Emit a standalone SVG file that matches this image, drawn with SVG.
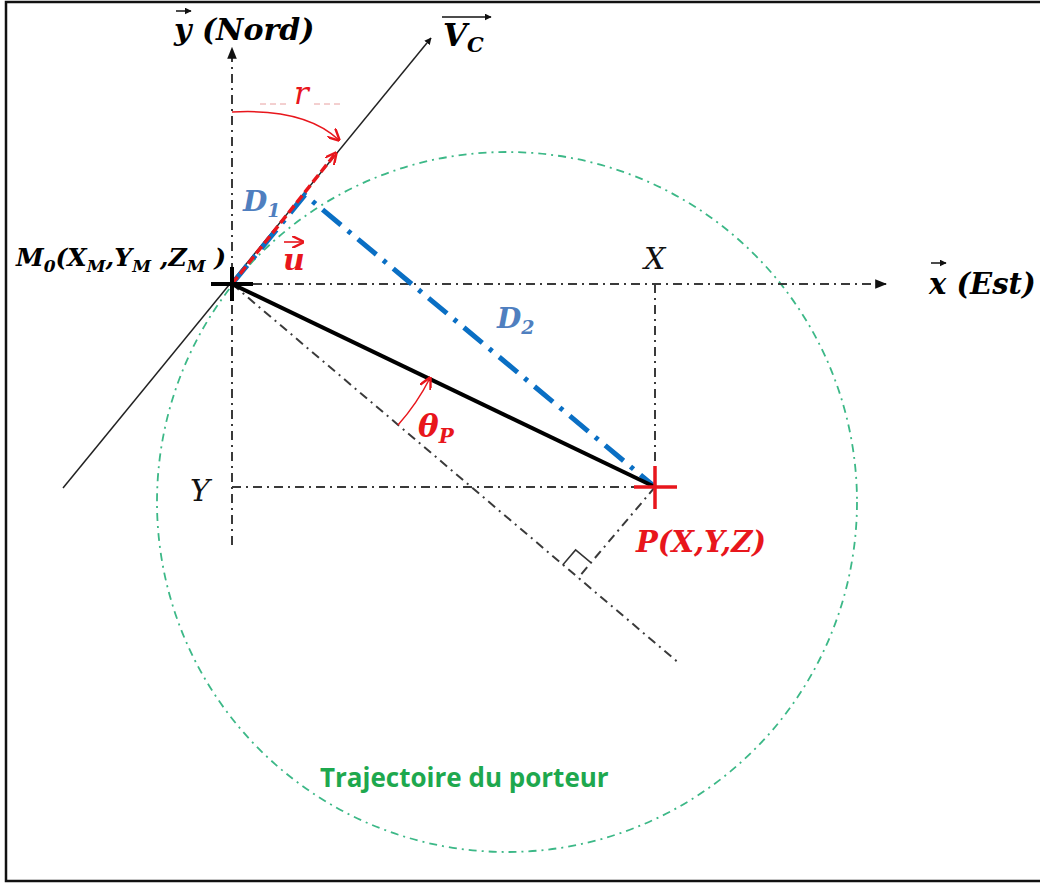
<svg xmlns="http://www.w3.org/2000/svg" width="1040" height="883" viewBox="0 0 1040 883">
<style>
.math{font-family:"DejaVu Serif","Liberation Serif",serif;font-weight:bold;font-style:italic}
.it{font-family:"DejaVu Serif","Liberation Serif",serif;font-style:italic}
.axis{fill:none;stroke:#3a3a3a;stroke-width:2;stroke-dasharray:9 5 2 5}
.red{fill:#e8161c}
.blue{fill:#4f7fbf}
</style>
<defs>
<marker id="ab" viewBox="0 0 10 10" refX="9" refY="5" markerWidth="7" markerHeight="7" orient="auto" markerUnits="userSpaceOnUse"><path d="M0,0 L10,5 L0,10 z" fill="#111"/></marker>
<marker id="ab2" viewBox="0 0 10 10" refX="9" refY="5" markerWidth="12" markerHeight="12" orient="auto" markerUnits="userSpaceOnUse"><path d="M0,1 L10,5 L0,9 z" fill="#111"/></marker>
<marker id="ar" viewBox="0 0 10 10" refX="9" refY="5" markerWidth="12" markerHeight="12" orient="auto" markerUnits="userSpaceOnUse"><path d="M0,0 L10,5 L0,10" fill="none" stroke="#e8161c" stroke-width="2"/></marker>
</defs>
<rect x="0" y="0" width="1040" height="883" fill="#fff"/>
<path d="M1045,2 L6,2 L6,881 L1045,881" fill="none" stroke="#111" stroke-width="2.5"/>

<g id="trajectoire">
<circle cx="507" cy="502" r="350" fill="none" stroke="#3cb887" stroke-width="1.8" stroke-dasharray="8 5 2 5"/>
</g>

<g id="connectors">
<path class="axis" d="M232,545 L232,48" marker-end="url(#ab2)"/>
<path class="axis" d="M232,284 L886,284" marker-end="url(#ab2)"/>
<path class="axis" d="M655,284 L655,487"/>
<path class="axis" d="M232,487 L655,487"/>
<path class="axis" d="M232,284 L680,664" stroke="#555"/>
<path class="axis" d="M655,487 L578,578" stroke="#555" stroke-width="1.6"/>
<path d="M562.7,565.1 L575.6,549.9 L590.9,562.7" fill="none" stroke="#333" stroke-width="1.5"/>
<path d="M63,488 L431,38" fill="none" stroke="#222" stroke-width="1.5" marker-end="url(#ab)"/>
<path d="M232,284 L305,195 L655,487" fill="none" stroke="#0a6fc4" stroke-width="5" stroke-dasharray="24 9 4 9"/>
<path d="M232,284 L655,487" fill="none" stroke="#000" stroke-width="4"/>
<path d="M232,284 L336,153" fill="none" stroke="#e8161c" stroke-width="3.5" stroke-dasharray="9 4" marker-end="url(#ar)"/>
<path d="M260,104 L290,104 M314,104 L340,104" fill="none" stroke="#e8a0a0" stroke-width="1" stroke-dasharray="6 4"/>
<path d="M232,112 Q305,108 339,140" fill="none" stroke="#e8161c" stroke-width="1.5" marker-end="url(#ar)"/>
<path d="M398,425 A218,218 0 0 0 430,378" fill="none" stroke="#e8161c" stroke-width="1.5" marker-end="url(#ar)"/>
</g>

<g id="M0">
<path d="M211,284 L253,284 M232,267 L232,301" stroke="#000" stroke-width="4"/>
<text class="math" x="16" y="266" font-size="25">M<tspan font-size="17" dy="6">0</tspan><tspan dy="-6">(X</tspan><tspan font-size="17" dy="6">M</tspan><tspan dy="-6">,Y</tspan><tspan font-size="17" dy="6">M</tspan><tspan dy="-6"> ,Z</tspan><tspan font-size="17" dy="6">M</tspan><tspan dy="-6"> )</tspan></text>
</g>

<g id="P">
<path d="M634,487 L677,487 M655,466 L655,509" stroke="#e8161c" stroke-width="3.5"/>
<text class="math red" x="636" y="552" font-size="29">P(X,Y,Z)</text>
</g>

<g id="axis-y">
<text class="math" x="174" y="40" font-size="30">y (Nord)</text>
<path d="M176,11 L191,11" stroke="#111" stroke-width="1.5" marker-end="url(#ab)"/>
</g>

<g id="axis-x">
<text class="math" x="929" y="294" font-size="29">x (Est)</text>
<path d="M931,263 L946,263" stroke="#111" stroke-width="1.5" marker-end="url(#ab)"/>
</g>

<g id="Vc">
<text class="math" x="443" y="46" font-size="31">V<tspan font-size="21" dy="6">C</tspan></text>
<path d="M442,17 L491,17" stroke="#111" stroke-width="1.5" marker-end="url(#ab)"/>
</g>

<g id="u">
<text class="math red" x="283" y="270" font-size="30">u</text>
<path d="M284,242 L303,242" stroke="#e8161c" stroke-width="1.6" marker-end="url(#ar)"/>
</g>

<g id="labels">
<text class="math blue" x="243" y="211" font-size="28">D<tspan font-size="19" dy="6">1</tspan></text>
<text class="math blue" x="497" y="328" font-size="28">D<tspan font-size="19" dy="6">2</tspan></text>
<text class="it" x="294" y="104" font-size="31" fill="#e8161c">r</text>
<text class="it" x="644" y="269" font-size="30" fill="#111">X</text>
<text class="it" x="190" y="501" font-size="30" fill="#111">Y</text>
<text class="math red" x="418" y="437" font-size="31">θ<tspan font-size="20" dy="6">P</tspan></text>
<text x="320" y="787" font-family="'Open Sans','Liberation Sans',sans-serif" font-weight="bold" fill="#1ea84e" style="font-size:26px">Trajectoire du porteur</text>
</g>
</svg>
